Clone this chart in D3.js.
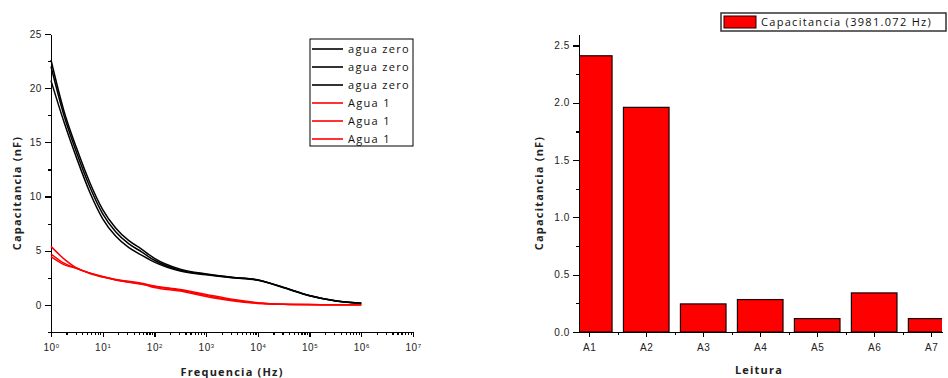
<!DOCTYPE html>
<html>
<head>
<meta charset="utf-8">
<script src="https://cdn.jsdelivr.net/npm/d3@7"></script>
<style>
  body { margin: 0; background: #fff; }
  svg { display: block; font-family: "Open Sans", sans-serif; }
  .axis path, .axis line { stroke: #000; stroke-width: 1.2; shape-rendering: crispEdges; }
  .axis text { font-size: 10px; fill: #222; letter-spacing: 0.6px; }
  .title { font-size: 11px; font-weight: bold; fill: #222; letter-spacing: 1.2px; }
  .leg { font-size: 11px; fill: #111; letter-spacing: 1.3px; }
</style>
</head>
<body>
<div id="chart"></div>
<script>
// ---------- data: left panel (capacitance vs frequency) ----------
const freq = [1, 1.778, 3.162, 5.623, 10, 17.78, 31.62, 56.23, 100, 316.2, 1000, 3162, 10000, 31623, 100000, 316228, 1000000];
const aguaZeroA = [22.6, 17.9, 14.4, 11.3, 8.8, 7.1, 5.95, 5.15, 4.3, 3.3, 2.86, 2.56, 2.31, 1.62, 0.86, 0.38, 0.15];
const aguaZeroB = [20.7, 16.9, 13.5, 10.4, 7.95, 6.35, 5.3, 4.6, 3.95, 3.12, 2.78, 2.5, 2.27, 1.58, 0.84, 0.37, 0.15];
const aguaZeroC = [22.0, 17.5, 14.0, 10.9, 8.4, 6.75, 5.65, 4.9, 4.12, 3.2, 2.82, 2.53, 2.29, 1.6, 0.85, 0.38, 0.15];
const agua1A = [5.4, 4.25, 3.4, 2.95, 2.62, 2.35, 2.18, 2.0, 1.75, 1.42, 0.97, 0.52, 0.21, 0.07, 0.03, 0.02, 0.02];
const agua1B = [4.7, 3.85, 3.38, 2.93, 2.6, 2.33, 2.13, 1.95, 1.6, 1.28, 0.78, 0.38, 0.14, 0.05, 0.02, 0.02, 0.02];
const agua1C = [4.45, 3.72, 3.36, 2.9, 2.57, 2.3, 2.1, 1.9, 1.7, 1.35, 0.88, 0.45, 0.17, 0.06, 0.03, 0.02, 0.02];
const seriesNames = ["agua zero", "agua zero", "agua zero", "Agua 1", "Agua 1", "Agua 1"];
const seriesColors = ["#000", "#000", "#000", "#ff0000", "#ff0000", "#ff0000"];
const seriesValues = [aguaZeroA, aguaZeroB, aguaZeroC, agua1A, agua1B, agua1C];

// ---------- data: right panel (bars) ----------
const leituras = ["A1", "A2", "A3", "A4", "A5", "A6", "A7"];
const capacitancia = [2.41, 1.96, 0.245, 0.283, 0.117, 0.341, 0.117];
const barLegend = "Capacitancia (3981.072 Hz)";

const svg = d3.select("#chart").append("svg")
  .attr("width", 948).attr("height", 378);

// =============== LEFT PANEL ===============
const xL = d3.scaleLog().domain([1, 1e7]).range([51, 413]);
const yL = d3.scaleLinear().domain([-2.5, 25]).range([332, 34]);

const decades = d3.range(0, 8).map(p => Math.pow(10, p));
const minorX = [];
for (let p = 0; p < 7; p++) for (let k = 2; k <= 9; k++) minorX.push(k * Math.pow(10, p));

const left = svg.append("g");

// minor ticks
left.append("g").attr("class", "axis")
  .attr("transform", "translate(0,332)")
  .call(d3.axisBottom(xL).tickValues(minorX).tickSize(3).tickSizeOuter(0).tickFormat(""));
const xAxisL = left.append("g").attr("class", "axis")
  .attr("transform", "translate(0,332)")
  .call(d3.axisBottom(xL).tickValues(decades).tickSize(5).tickSizeOuter(0).tickFormat(d => Math.round(Math.log10(d))));
xAxisL.selectAll("text").each(function () {
  const t = d3.select(this);
  const p = t.text();
  t.text("10").attr("dy", "1.05em");
  t.append("tspan").attr("dy", "-0.45em").style("font-size", "6px").text(p);
});

left.append("g").attr("class", "axis")
  .attr("transform", "translate(51,0)")
  .call(d3.axisLeft(yL).tickValues(d3.range(-2.5, 25.1, 2.5)).tickSize(3).tickSizeOuter(0).tickFormat(""));
left.append("g").attr("class", "axis")
  .attr("transform", "translate(51,0)")
  .call(d3.axisLeft(yL).tickValues(d3.range(0, 26, 5)).tickSize(6).tickSizeOuter(0));

const line = d3.line()
  .x((d, i) => xL(freq[i]))
  .y(d => yL(d))
  .curve(d3.curveMonotoneX);

left.append("g").selectAll("path")
  .data(seriesValues)
  .join("path")
  .attr("d", line)
  .attr("fill", "none")
  .attr("stroke", (d, i) => seriesColors[i])
  .attr("stroke-width", 1.5);

// legend
const legL = left.append("g").attr("transform", "translate(310,39)");
legL.append("rect").attr("width", 103).attr("height", 107)
  .attr("fill", "#fff").attr("stroke", "#000").attr("stroke-width", 1);
seriesNames.forEach((n, i) => {
  const yy = 10 + i * 18;
  legL.append("line").attr("x1", 2).attr("x2", 33).attr("y1", yy).attr("y2", yy)
    .attr("stroke", seriesColors[i]).attr("stroke-width", 1.6);
  legL.append("text").attr("class", "leg").attr("x", 38).attr("y", yy).attr("dy", "0.35em").text(n);
});

left.append("text").attr("class", "title")
  .attr("x", 232).attr("y", 376).attr("text-anchor", "middle").text("Frequencia (Hz)");
left.append("text").attr("class", "title")
  .attr("transform", "translate(21,193) rotate(-90)").attr("text-anchor", "middle").text("Capacitancia (nF)");

// =============== RIGHT PANEL ===============
const xR = d3.scaleLinear().domain([0.82, 7.19]).range([579, 942]);
const yR = d3.scaleLinear().domain([0, 2.6]).range([332, 34]);
const right = svg.append("g");

right.append("clipPath").attr("id", "clipR")
  .append("rect").attr("x", xR(0.82)).attr("y", 0).attr("width", xR(7.19) - xR(0.82)).attr("height", yR(0));

right.append("g").attr("clip-path", "url(#clipR)")
  .selectAll("rect")
  .data(capacitancia)
  .join("rect")
  .attr("x", (d, i) => xR(i + 1 - 0.4))
  .attr("width", (d, i) => xR(i + 1.4) - xR(i + 0.6))
  .attr("y", d => yR(d))
  .attr("height", d => yR(0) - yR(d))
  .attr("fill", "#ff0000")
  .attr("stroke", "#1a0000")
  .attr("stroke-width", 1.2);

right.append("g").attr("class", "axis")
  .attr("transform", "translate(0,332)")
  .call(d3.axisBottom(xR).tickValues(d3.range(1.5, 7, 1)).tickSize(3).tickSizeOuter(0).tickFormat(""));
right.append("g").attr("class", "axis")
  .attr("transform", "translate(0,332)")
  .call(d3.axisBottom(xR).tickValues(d3.range(1, 8)).tickSize(5).tickSizeOuter(0).tickFormat(d => leituras[d - 1]))
  .selectAll("text").attr("dy", "1.05em");

right.append("g").attr("class", "axis")
  .attr("transform", "translate(579,0)")
  .call(d3.axisLeft(yR).tickValues(d3.range(0, 2.6, 0.25)).tickSize(3).tickSizeOuter(0).tickFormat(""));
right.append("g").attr("class", "axis")
  .attr("transform", "translate(579,0)")
  .call(d3.axisLeft(yR).tickValues(d3.range(0, 2.6, 0.5)).tickSize(6).tickSizeOuter(0).tickFormat(d3.format(".1f")));

// legend
const legR = right.append("g").attr("transform", "translate(721,13)");
legR.append("rect").attr("width", 225).attr("height", 18)
  .attr("fill", "#fff").attr("stroke", "#333").attr("stroke-width", 1.5);
legR.append("rect").attr("x", 3).attr("y", 3).attr("width", 32).attr("height", 12)
  .attr("fill", "#ff0000").attr("stroke", "#1a0000").attr("stroke-width", 1);
legR.append("text").attr("class", "leg").attr("x", 40).attr("y", 9).attr("dy", "0.35em").text(barLegend);

right.append("text").attr("class", "title")
  .attr("x", 759).attr("y", 374).attr("text-anchor", "middle").text("Leitura");
right.append("text").attr("class", "title")
  .attr("transform", "translate(543,193) rotate(-90)").attr("text-anchor", "middle").text("Capacitancia (nF)");
</script>
</body>
</html>
